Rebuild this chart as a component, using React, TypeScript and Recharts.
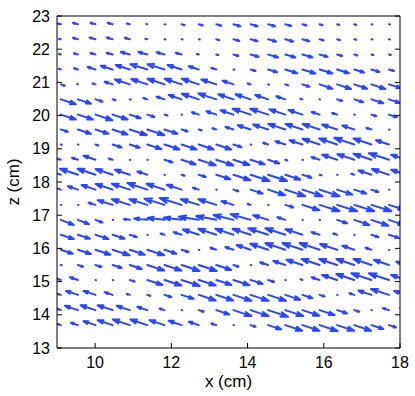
import React from "react";
import { ComposedChart, Label, ReferenceLine, XAxis, YAxis } from "recharts";

// grid of measurement points (cm)
const X_GRID = [
  9.1, 9.55, 10.01, 10.46, 10.91, 11.37, 11.82, 12.27, 12.72, 13.18, 13.63,
  14.08, 14.54, 14.99, 15.44, 15.89, 16.35, 16.8, 17.25, 17.71, 18.16,
];
const Z_GRID = [
  13.69, 14.14, 14.6, 15.05, 15.5, 15.96, 16.41, 16.86, 17.31, 17.77, 18.22,
  18.67, 19.13, 19.58, 20.03, 20.49, 20.94, 21.39, 21.84, 22.3, 22.75,
];

// horizontal velocity, one list per z row (bottom row first)
const u00 = [-3, -7, -12, -15, -17, -17, -15, -13, -10, -5, 0.5, 5, 13, 17, 17, 18, 17, 17, 12, 7, 0];
const u01 = [-4, -13, -15, -15, -13, -10, -5, 0.5, 5, 13, 18, 18, 20, 18, 17, 15, 10, 5, 0.5, -6, -6];
const u02 = [-3, -12, -12, -8, -3, 3, 7, 12, 17, 17, 18, 18, 18, 15, 10, 5, 0.5, -5, -13, -18, -12];
const u03 = [-4, -8, 0.5, 0.5, 5, 15, 17, 18, 17, 15, 16, 12, 6, 0.5, -2, -8, -15, -18, -20, -20, -15];
const u04 = [1, 5, 6, 9, 12, 17, 17, 18, 18, 15, 5, 0.5, -8, -12, -16, -18, -18, -18, -18, -15, -10];
const u05 = [12, 13, 15, 17, 15, 17, 12, 7, 0.5, -6, -8, -14, -18, -20, -20, -20, -17, -12, -6, 0.5, 0];
const u06 = [13, 12, 13, 12, 7, 0.5, -4, -8, -16, -18, -18, -18, -20, -20, -17, -8, -4, 0.5, 7, 10, 0];
const u07 = [13, 11, 7, 0.5, -6, -13, -17, -18, -20, -20, -20, -20, -15, -8, 0.5, 0.5, 10, 15, 17, 15, 0];
const u08 = [0.5, 0.5, -7, -15, -18, -18, -20, -22, -18, -18, -12, -3, 0.5, 8, 17, 20, 20, 20, 20, 15, 0];
const u09 = [-8, -10, -14, -17, -18, -20, -18, -15, -6, 0.5, 5, 12, 17, 20, 20, 20, 15, 12, 7, 0.5, 0];
const u10 = [-12, -18, -18, -17, -15, -10, 0.5, 3, 7, 14, 17, 19, 19, 15, 9, 2, 0.5, -3, -13, -17, -15];
const u11 = [-3, -6, -12, -4, 0.5, 0.5, 8, 14, 17, 17, 16, 14, 11, 2, 0.5, -8, -15, -17, -18, -20, -15];
const u12 = [1, 0.5, 3, 9, 10, 14, 15, 15, 15, 15, 8, 0.5, -5, -10, -13, -17, -18, -20, -18, -13, 0];
const u13 = [7, 13, 13, 15, 17, 17, 13, 6, 3, -4, -8, -13, -15, -17, -17, -17, -15, -12, -5, 0.5, 0];
const u14 = [15, 15, 17, 15, 11, 7, 3, 0.5, -7, -10, -13, -18, -18, -16, -14, -8, -5, 0.5, 5, 8, 0];
const u15 = [15, 13, 7, 3, 1, -4, -8, -13, -17, -18, -15, -15, -13, -9, -2, 0.5, 5, 9, 12, 11, 0];
const u16 = [4, -1, -3, -8, -15, -16, -17, -17, -17, -15, -11, -3, 1, 3, 7, 13, 14, 13, 14, 12, 0];
const u17 = [-2, -4, -8, -12, -14, -17, -17, -14, -10, -5, 1, 5, 9, 12, 13, 13, 12, 10, 8, 5, 0];
const u18 = [-2, -4, -5, -6, -9, -9, -8, -6, -2, 2, 5, 8, 10, 10, 10, 8, 5, 3, 2, 2, 0];
const u19 = [-2, -5, -6, -6, -5, -2, 1, 1, 1, 3, 6, 7, 8, 8, 7, 4, 3, 2, 1, 1, 0];
const u20 = [-3, -5, -5, -5, -3, -1, 1, 3, 4, 5, 7, 7, 7, 6, 4, 3, 2, 2, 1, 1, 0];

const U_ROWS = [
  u00, u01, u02, u03, u04, u05, u06, u07, u08, u09, u10,
  u11, u12, u13, u14, u15, u16, u17, u18, u19, u20,
];

// w/u ratio of the flow in each row
const FLOW_TILT = [
  -0.38, -0.38, -0.38, -0.38, -0.38, -0.38, -0.38, -0.3, -0.36, -0.38, -0.38,
  -0.38, -0.38, -0.38, -0.38, -0.38, -0.38, -0.36, -0.33, -0.33, -0.33,
];
// the z = 16.86 row bends: flatter arrows in its middle
const TILT_ROW_07 = [
  -0.45, -0.45, -0.45, -0.3, -0.15, -0.12, -0.12, -0.14, -0.18, -0.22, -0.28,
  -0.32, -0.35, -0.38, -0.38, -0.38, -0.4, -0.4, -0.4, -0.4, -0.4,
];
const TILT_DETAIL: Record<number, number[]> = { 7: TILT_ROW_07 };

const X_TICKS = [10, 12, 14, 16, 18];
const Z_TICKS = [13, 14, 15, 16, 17, 18, 19, 20, 21, 22, 23];

const ARROW_SCALE = 0.0262; // cm of arrow per velocity unit
const ARROW_COLOR = "#2846ff";
const FONT = "'Liberation Sans', Arial, Helvetica, sans-serif";

function QuiverArrow(props: any) {
  const { x1, y1, x2, y2 } = props;
  if (![x1, y1, x2, y2].every((v) => Number.isFinite(v))) return <g />;
  const dx = x2 - x1;
  const dy = y2 - y1;
  const a = 0.35;
  const b = 0.32;
  const h1x = x2 - a * (dx + b * dy);
  const h1y = y2 - a * (dy - b * dx);
  const h2x = x2 - a * (dx - b * dy);
  const h2y = y2 - a * (dy + b * dx);
  return (
    <path
      d={`M${x1},${y1}L${x2},${y2}M${h1x},${h1y}L${x2},${y2}L${h2x},${h2y}`}
      stroke={ARROW_COLOR}
      strokeWidth={2}
      strokeLinecap="round"
      strokeLinejoin="round"
      fill="none"
      clipPath={props.clipPath}
    />
  );
}

const tickStyle = { fill: "#000", fontSize: 16, fontFamily: FONT };

export default function App() {
  const arrows: React.ReactNode[] = [];
  U_ROWS.forEach((row, r) => {
    row.forEach((u, c) => {
      if (u === 0) return;
      const x = X_GRID[c];
      const z = Z_GRID[r];
      const tilt = TILT_DETAIL[r] ? TILT_DETAIL[r][c] : FLOW_TILT[r];
      const du = u * ARROW_SCALE;
      const dw = du * tilt;
      arrows.push(
        <ReferenceLine
          key={`a-${r}-${c}`}
          segment={[
            { x, y: z },
            { x: x + du, y: z + dw },
          ]}
          ifOverflow="hidden"
          shape={QuiverArrow}
        />
      );
    });
  });

  return (
    <div style={{ position: "absolute", left: 0, top: 0, background: "#fff" }}>
      <ComposedChart
        width={415}
        height={396}
        margin={{ top: 15, right: 14, bottom: 0, left: 0 }}
      >
        <XAxis
          type="number"
          dataKey="x"
          domain={[9, 18]}
          ticks={X_TICKS}
          allowDataOverflow
          height={48}
          tickSize={-5}
          tickMargin={14}
          tick={tickStyle}
          axisLine={{ stroke: "#000" }}
          tickLine={{ stroke: "#000" }}
        >
          <Label
            content={({ viewBox }: any) => (
              <text
                x={viewBox.x + viewBox.width / 2}
                y={viewBox.y + 39}
                textAnchor="middle"
                fontSize={17}
                fontFamily={FONT}
                fill="#000"
              >
                x (cm)
              </text>
            )}
          />
        </XAxis>
        <XAxis
          xAxisId="top"
          orientation="top"
          type="number"
          domain={[9, 18]}
          ticks={X_TICKS}
          allowDataOverflow
          height={1}
          tickSize={-5}
          tickFormatter={() => ""}
          axisLine={{ stroke: "#000" }}
          tickLine={{ stroke: "#000" }}
        />
        <YAxis
          type="number"
          dataKey="z"
          domain={[13, 23]}
          ticks={Z_TICKS}
          allowDataOverflow
          width={57}
          tickSize={-5}
          tickMargin={12}
          tick={tickStyle}
          axisLine={{ stroke: "#000" }}
          tickLine={{ stroke: "#000" }}
        >
          <Label
            content={({ viewBox }: any) => {
              const cx = viewBox.x + 13;
              const cy = viewBox.y + viewBox.height / 2;
              return (
                <text
                  x={cx}
                  y={cy}
                  transform={`rotate(-90 ${cx} ${cy})`}
                  textAnchor="middle"
                  dominantBaseline="central"
                  fontSize={17}
                  fontFamily={FONT}
                  fill="#000"
                >
                  z (cm)
                </text>
              );
            }}
          />
        </YAxis>
        <YAxis
          yAxisId="right"
          orientation="right"
          type="number"
          domain={[13, 23]}
          ticks={Z_TICKS}
          allowDataOverflow
          width={1}
          tickSize={-5}
          tickFormatter={() => ""}
          axisLine={{ stroke: "#000" }}
          tickLine={{ stroke: "#000" }}
        />
        {arrows}
      </ComposedChart>
    </div>
  );
}
